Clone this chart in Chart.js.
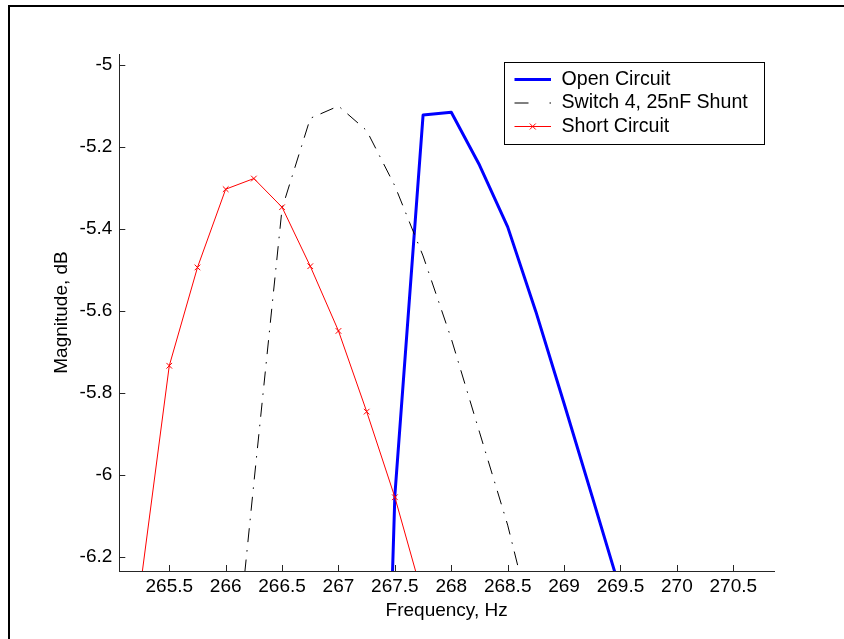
<!DOCTYPE html>
<html>
<head>
<meta charset="utf-8">
<script src="https://cdn.jsdelivr.net/npm/chart.js@4.4.1/dist/chart.umd.min.js"></script>
<style>
  html, body { margin: 0; padding: 0; background: #fff; }
  #wrap { position: relative; width: 844px; height: 639px; overflow: hidden; }
  #frame { position: absolute; left: 8px; top: 5px; width: 900px; height: 700px;
           border-left: 2px solid #000; border-top: 2px solid #000; }
  #c { position: absolute; left: 0; top: 0; }
</style>
</head>
<body>
<div id="wrap">
  <div id="frame"></div>
  <canvas id="c" width="844" height="639"></canvas>
</div>
<script>
// Resonance sweeps, magnitude in dB against frequency in Hz
const openFreq  = [267.25, 267.5, 267.75, 268.0, 268.25, 268.5, 268.75, 269.0, 269.25, 269.5];
const openMag   = [-8.3, -6.05, -5.122, -5.115, -5.244, -5.395, -5.602, -5.826, -6.054, -6.284];

const shuntFreq = [266.0, 266.25, 266.5, 266.75, 267.0, 267.25, 267.5, 267.75, 268.0, 268.25, 268.5, 268.75];
const shuntMag  = [-6.7, -6.02, -5.35, -5.13, -5.10, -5.16, -5.295, -5.466, -5.668, -5.896, -6.123, -6.40];

const shortFreq = [265.25, 265.5, 265.75, 266.0, 266.25, 266.5, 266.75, 267.0, 267.25, 267.5, 267.75];
const shortMag  = [-6.26, -5.734, -5.494, -5.303, -5.277, -5.347, -5.491, -5.649, -5.846, -6.055, -6.30];

const seriesNames = ['Open Circuit', 'Switch 4, 25nF Shunt', 'Short Circuit'];

const xTicks = [265.5, 266, 266.5, 267, 267.5, 268, 268.5, 269, 269.5, 270, 270.5];
const yTicks = [-6.2, -6, -5.8, -5.6, -5.4, -5.2, -5];

const xTitle = 'Frequency, Hz';
const yTitle = 'Magnitude, dB';

const FONT_FAMILY = "'Liberation Sans', Arial, Helvetica, sans-serif";
const font = { family: FONT_FAMILY, size: 19 };
const legendFontSize = 19.6;
const axisColor = '#262626';

const toPoints = (xs, ys) => xs.map((x, i) => ({ x, y: ys[i] }));

// Inward tick marks and the boxed legend in the upper right
const axesDecor = {
  id: 'axesDecor',
  afterDraw(chart) {
    const { ctx, chartArea: a, scales: { x, y } } = chart;
    ctx.save();
    ctx.strokeStyle = axisColor;
    ctx.lineWidth = 1;
    ctx.beginPath();
    x.ticks.forEach(t => {
      const px = Math.round(x.getPixelForValue(t.value)) + 0.5;
      ctx.moveTo(px, a.bottom);
      ctx.lineTo(px, a.bottom - 6);
    });
    y.ticks.forEach(t => {
      const py = Math.round(y.getPixelForValue(t.value)) + 0.5;
      ctx.moveTo(a.left, py);
      ctx.lineTo(a.left + 6, py);
    });
    ctx.stroke();

    // legend
    ctx.font = `${legendFontSize}px ${FONT_FAMILY}`;
    const textW = Math.max(...seriesNames.map(s => ctx.measureText(s).width));
    const boxW = Math.round(57 + textW + 17);
    const boxH = 82;
    const boxL = Math.round(a.right - 10 - boxW) + 0.5;
    const boxT = Math.round(a.top + 8) + 0.5;
    ctx.fillStyle = '#fff';
    ctx.fillRect(boxL, boxT, boxW, boxH);
    ctx.strokeStyle = '#000';
    ctx.lineWidth = 1;
    ctx.strokeRect(boxL, boxT, boxW, boxH);

    chart.data.datasets.forEach((ds, i) => {
      const rowY = boxT + 17 + i * 23.5;
      const x1 = boxL + 10, x2 = boxL + 46.5;
      ctx.save();
      ctx.strokeStyle = ds.borderColor;
      ctx.lineWidth = ds.borderWidth;
      ctx.setLineDash(ds.legendDash || []);
      ctx.beginPath();
      ctx.moveTo(x1, rowY);
      ctx.lineTo(x2, rowY);
      ctx.stroke();
      ctx.restore();
      if (ds.pointRadius > 0) {
        const cx = (x1 + x2) / 2, r = ds.pointRadius * 0.75;
        ctx.strokeStyle = ds.borderColor;
        ctx.lineWidth = 1;
        ctx.beginPath();
        ctx.moveTo(cx - r, rowY - r); ctx.lineTo(cx + r, rowY + r);
        ctx.moveTo(cx - r, rowY + r); ctx.lineTo(cx + r, rowY - r);
        ctx.stroke();
      }
      ctx.fillStyle = '#000';
      ctx.textAlign = 'left';
      ctx.textBaseline = 'middle';
      ctx.fillText(seriesNames[i], boxL + 57, rowY);
    });
    ctx.restore();
  }
};

new Chart(document.getElementById('c'), {
  type: 'line',
  data: {
    datasets: [
      {
        label: seriesNames[0],
        data: toPoints(openFreq, openMag),
        borderColor: '#0000ff',
        borderWidth: 3,
        pointRadius: 0,
        borderJoinStyle: 'round',
        clip: 0,
        order: 2
      },
      {
        label: seriesNames[1],
        data: toPoints(shuntFreq, shuntMag),
        borderColor: '#000000',
        borderWidth: 1,
        borderDash: [14, 8, 1.5, 8],
        legendDash: [14, 21, 1.5, 20],
        pointRadius: 0,
        clip: 0,
        order: 1
      },
      {
        label: seriesNames[2],
        data: toPoints(shortFreq, shortMag),
        borderColor: '#ff0000',
        borderWidth: 1,
        pointStyle: 'crossRot',
        pointRadius: 4,
        pointBorderColor: '#ff0000',
        pointBorderWidth: 1,
        clip: 0,
        order: 0
      }
    ]
  },
  options: {
    responsive: false,
    animation: false,
    devicePixelRatio: 1,
    layout: { padding: { left: 0, top: 54, right: 70, bottom: 0 } },
    plugins: { legend: { display: false }, tooltip: { enabled: false } },
    elements: { line: { tension: 0 } },
    scales: {
      x: {
        type: 'linear',
        min: 265.057,
        max: 270.861,
        afterBuildTicks: s => { s.ticks = xTicks.map(v => ({ value: v })); },
        afterFit: s => { s.height = 68; },
        grid: { display: false, drawTicks: false },
        border: { display: true, color: axisColor, width: 1 },
        ticks: { color: '#000', font, padding: 4, maxRotation: 0, autoSkip: false,
                 callback: v => String(v) },
        title: { display: true, text: xTitle, color: '#000', font,
                 padding: { top: 0, bottom: 16.6 } }
      },
      y: {
        type: 'linear',
        min: -6.235,
        max: -4.973,
        afterBuildTicks: s => { s.ticks = yTicks.map(v => ({ value: v })); },
        afterFit: s => { s.width = 119.3; },
        grid: { display: false, drawTicks: false },
        border: { display: true, color: axisColor, width: 1 },
        ticks: { color: '#000', font, padding: 7, autoSkip: false,
                 callback: v => String(v) },
        title: { display: true, text: yTitle, color: '#000', font,
                 padding: { top: 50, bottom: 0 } }
      }
    }
  },
  plugins: [axesDecor]
});
</script>
</body>
</html>
